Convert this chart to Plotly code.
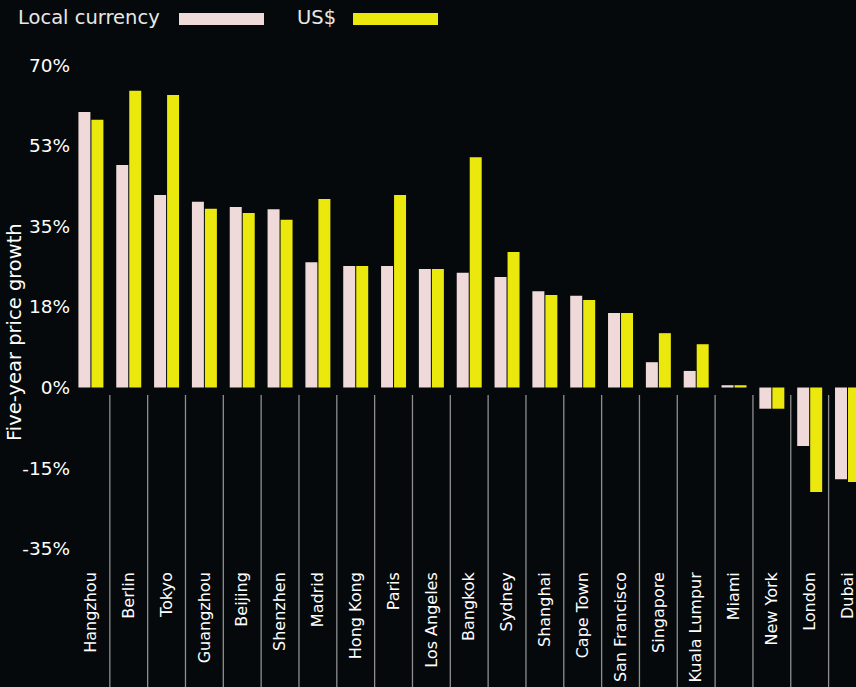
import plotly.graph_objects as go

cities = ["Hangzhou", "Berlin", "Tokyo", "Guangzhou", "Beijing", "Shenzhen", "Madrid",
          "Hong Kong", "Paris", "Los Angeles", "Bangkok", "Sydney", "Shanghai", "Cape Town",
          "San Francisco", "Singapore", "Kuala Lumpur", "Miami", "New York", "London", "Dubai"]
local_currency = [59.8, 48.3, 41.8, 40.3, 39.2, 38.7, 27.2, 26.4, 26.4, 25.7, 24.9, 24.0,
                  20.9, 19.9, 16.2, 5.5, 3.6, 0.5, -4.6, -12.7, -19.9]
us_dollar = [58.1, 64.4, 63.5, 38.8, 37.9, 36.4, 40.9, 26.4, 41.8, 25.7, 50.0, 29.4,
             20.1, 19.0, 16.2, 11.8, 9.4, 0.5, -4.6, -22.7, -20.5]
tick_vals = [70, 52.5, 35, 17.5, 0, -17.5, -35]
tick_text = ["70%", "53%", "35%", "18%", "0%", "-15%", "-35%"]

BG = "#05090b"
PINK = "#f0d9d9"
YELLOW = "#ebe80e"
FONT = "DejaVu Sans"

W, H = 856, 687
ML, MR, MT, MB = 72, 0, 42, 138
PW, PH = W - ML - MR, H - MT - MB


def px(x):
    return (x - ML) / PW


def py(y):
    return (H - MB - y) / PH


fig = go.Figure()
fig.add_trace(go.Bar(x=list(range(len(cities))), y=local_currency, name="Local currency",
                     marker=dict(color=PINK, line=dict(width=0)), showlegend=False))
fig.add_trace(go.Bar(x=list(range(len(cities))), y=us_dollar, name="US$",
                     marker=dict(color=YELLOW, line=dict(width=0)), showlegend=False))

shapes = []
# category separator lines below the zero line
for i in range(len(cities) - 1):
    shapes.append(dict(type="line", xref="x", yref="paper", x0=i + 0.5, x1=i + 0.5,
                       y0=py(395), y1=py(H + 2), line=dict(color="#8f8f8f", width=1.3),
                       layer="above"))
# legend swatches
shapes.append(dict(type="rect", xref="paper", yref="paper", x0=px(179), x1=px(264),
                   y0=py(25), y1=py(13), fillcolor=PINK, line=dict(width=0)))
shapes.append(dict(type="rect", xref="paper", yref="paper", x0=px(353), x1=px(438),
                   y0=py(25), y1=py(13), fillcolor=YELLOW, line=dict(width=0)))

annotations = [
    dict(text="Local currency", xref="paper", yref="paper", x=px(16), y=py(18),
         xanchor="left", yanchor="middle", showarrow=False,
         font=dict(family=FONT, size=19.5, color="#e8e8e8")),
    dict(text="US$", xref="paper", yref="paper", x=px(295), y=py(18),
         xanchor="left", yanchor="middle", showarrow=False,
         font=dict(family=FONT, size=19.5, color="#e8e8e8")),
    dict(text="Five-year price growth", xref="paper", yref="paper", x=px(14), y=py(332),
         xanchor="center", yanchor="middle", textangle=-90, showarrow=False,
         font=dict(family=FONT, size=19.5, color="#ffffff")),
]

fig.update_layout(
    width=W, height=H,
    margin=dict(l=ML, r=MR, t=MT, b=MB, pad=0),
    paper_bgcolor=BG, plot_bgcolor=BG,
    barmode="group", bargap=0.313, bargroupgap=0.077,
    shapes=shapes, annotations=annotations,
    showlegend=False,
)
fig.update_xaxes(
    range=[-0.5, -0.5 + PW / 37.83],
    tickmode="array", tickvals=list(range(len(cities))), ticktext=cities,
    tickangle=-90, tickfont=dict(family=FONT, size=16, color="#ffffff"),
    showgrid=False, zeroline=False, showline=False, ticks="", ticklabelstandoff=19,
    ticklabeloverflow="allow",
)
fig.update_yaxes(
    range=[-35.05, 75],
    tickmode="array", tickvals=tick_vals, ticktext=tick_text,
    tickfont=dict(family=FONT, size=18.5, color="#ffffff"),
    showgrid=False, zeroline=False, showline=False, ticks="", ticklabelstandoff=1,
)

fig.write_html("out.html", config={"displayModeBar": False},
               post_script="document.body.style.margin='0';document.body.style.background='%s';" % BG)
